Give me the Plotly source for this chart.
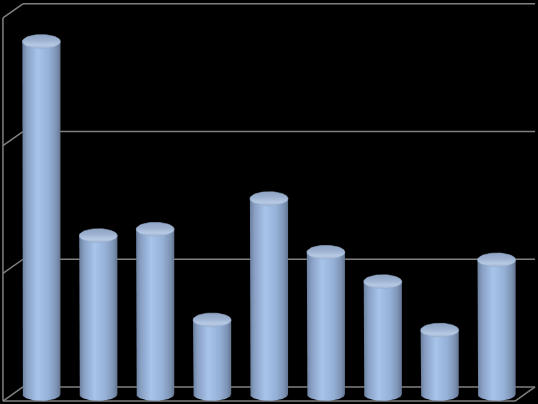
#!/usr/bin/env python3
# -*- coding: utf-8 -*-
"""
3D-looking cylinder column chart on a black background
"""

import numpy as np
import plotly.graph_objects as go

categories = ['1', '2', '3', '4', '5', '6', '7', '8', '9']
values = [276, 124, 129, 58, 153, 111, 88, 50, 105]
grid_values = [0, 100, 200, 300]

# depth of the fake 3D box, in axis units (half depth)
DX = 0.176
DY = 5.5
# cylinder radius (x units) and ellipse half height (y units)
RX = 0.335
RY = 5.4

LINE = dict(color='#808080', width=1.5)
BODY_SCALE = [[0, '#6a7f9e'], [0.12, '#889fc3'], [0.4, '#a8c4ea'],
              [0.7, '#95b0d6'], [0.9, '#7c92b3'], [1, '#627590']]
# vertical gradient on the lid: front rim (bottom) lighter, back darker
TOP_SCALE = [[0, '#a3b8d6'], [0.25, '#b6c9e4'], [0.6, '#9db2d0'], [1, '#8fa4c3']]


def cylinder_traces(x, v):
    """Body and top ellipse of one cylinder, placed on the data axes"""
    t = np.linspace(np.pi, 2 * np.pi, 40)
    bx = np.concatenate([[x - RX], x + RX * np.cos(t), [x + RX, x - RX]])
    by = np.concatenate([[v], RY * np.sin(t), [v, v]])
    body = go.Scatter(x=bx, y=by, mode='lines', fill='toself',
                      line=dict(width=0),
                      fillgradient=dict(type='horizontal', colorscale=BODY_SCALE),
                      hoverinfo='skip', showlegend=False)
    t = np.linspace(0, 2 * np.pi, 60)
    top = go.Scatter(x=x + RX * np.cos(t), y=v + RY * np.sin(t), mode='lines',
                     fill='toself', line=dict(width=0.6, color='#93a9c8'),
                     fillgradient=dict(type='vertical', colorscale=TOP_SCALE),
                     hovertext=f'{v}', hoverinfo='text', showlegend=False)
    return [body, top]


def box_shapes(n):
    """Back wall gridlines, left wall and floor edges"""
    left, right = -0.5, n - 0.5
    top = grid_values[-1]
    shapes = []
    for g in grid_values:
        shapes.append(dict(type='line', x0=left + DX, x1=right + DX, y0=g + DY, y1=g + DY))
        shapes.append(dict(type='line', x0=left - DX, x1=left + DX, y0=g - DY, y1=g + DY))
    shapes.append(dict(type='line', x0=left - DX, x1=left - DX, y0=-DY, y1=top - DY))
    shapes.append(dict(type='line', x0=left - DX, x1=right - DX, y0=-DY, y1=-DY))
    shapes.append(dict(type='line', x0=right - DX, x1=right + DX, y0=-DY, y1=DY))
    for s in shapes:
        s.update(xref='x', yref='y', line=LINE, layer='below')
    return shapes


fig = go.Figure()
for idx, val in enumerate(values):
    for tr in cylinder_traces(idx, val):
        fig.add_trace(tr)

fig.update_layout(width=538, height=404,
                  margin=dict(l=0, r=0, t=0, b=0),
                  paper_bgcolor='black', plot_bgcolor='black',
                  shapes=box_shapes(len(categories)),
                  xaxis=dict(range=[-0.7276, 8.7276], visible=False, fixedrange=True),
                  yaxis=dict(range=[-7.83, 308.5], visible=False, fixedrange=True))
# page body has a default margin; drop it so the figure sits at the window corner
fig.write_html("out.html",
               config={'displayModeBar': False},
               post_script="document.body.style.margin='0';"
                           "document.body.style.background='black';")
